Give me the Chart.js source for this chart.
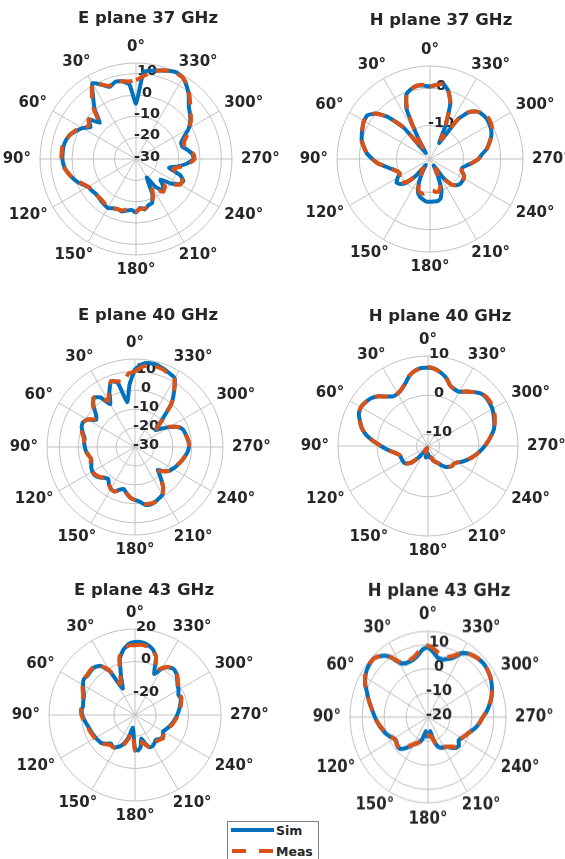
<!DOCTYPE html>
<html><head><meta charset="utf-8">
<script src="https://cdn.jsdelivr.net/npm/chart.js@4.4.0/dist/chart.umd.min.js"></script>
<style>
html,body{margin:0;padding:0;background:#fff;}
body{width:565px;height:859px;position:relative;overflow:hidden;font-family:"DejaVu Sans",sans-serif;}
canvas{position:absolute;}
#legend{position:absolute;left:227px;top:821px;width:90px;height:44px;border:1px solid #7f7f7f;background:#fff;z-index:5;font:bold 12.5px "DejaVu Sans";color:#262626;}
#legend .row{position:absolute;left:2px;height:16px;display:flex;align-items:center;}
#legend svg{display:block;}
#legend span{margin-left:2px;}
</style></head>
<body>
<canvas id="cE37" width="282" height="290" style="left:0;top:0"></canvas>
<canvas id="cH37" width="283" height="290" style="left:282px;top:0"></canvas>
<canvas id="cE40" width="282" height="285" style="left:0;top:290px"></canvas>
<canvas id="cH40" width="283" height="285" style="left:282px;top:290px"></canvas>
<canvas id="cE43" width="282" height="284" style="left:0;top:575px"></canvas>
<canvas id="cH43" width="283" height="284" style="left:282px;top:575px"></canvas>
<div id="legend">
  <div class="row" style="top:0px"><svg width="44" height="8"><line x1="1" y1="4" x2="44" y2="4" stroke="#0072BD" stroke-width="4"/></svg><span>Sim</span></div>
  <div class="row" style="top:21px"><svg width="44" height="8"><line x1="2" y1="4" x2="44" y2="4" stroke="#D95319" stroke-width="4" stroke-dasharray="14 13"/></svg><span>Meas</span></div>
</div>
<script>
// angles (degrees, counter-clockwise from top)
const angles = [0,5,10,15,20,25,30,35,40,45,50,55,60,65,70,75,80,85,90,95,100,105,110,115,120,125,130,135,140,145,150,155,160,165,170,175,180,185,190,195,200,205,210,215,220,225,230,235,240,245,250,255,260,265,270,275,280,285,290,295,300,305,310,315,320,325,330,335,340,345,350,355];
const thetaTicks = [0,30,60,90,120,150,180,210,240,270,300,330];
const thetaTickLabels = ['0°','30°','60°','90°','120°','150°','180°','210°','240°','270°','300°','330°'];

// E plane 37 GHz
const e37Sim  = [-4,5,7,7.5,6,8.5,11,5,0,-6,-1,-4,-1,1,3,4,4.5,4.5,4.5,4,3,1.5,0,-2,-4,-4.5,-5,-5,-4.5,-4,-3.5,-4.5,-5,-4.5,-5.5,-6,-5,-7,-6,-7.5,-8,-12,-20,-14,-11,-12,-15,-10,-6.5,-5.5,-8,-14,-10,-6,-3,-3.5,-5.5,-7.5,-7.5,-5,-1.5,1,3,5,8.5,11.5,14,14.8,14,13,12,11];
const e37Meas = [7,6.5,7,7.5,6.5,8.5,11,6,1,-5,-1,-3,-0.5,1.5,3,4,5,5,5,4.5,3,1.5,-0.5,-2.5,-4,-5,-5,-5,-5,-4.5,-4,-4.5,-5,-5,-6,-6,-5.5,-6.5,-6.5,-7,-8,-11,-15,-12,-10,-11,-12,-9,-6,-6,-8.5,-12,-9,-5,-2.5,-3,-5,-6.5,-6,-3.5,-1,1.5,3.5,6,9,12,14,14.5,14,13,11,9];
// H plane 37 GHz
const h37Sim  = [0.5,0.8,1,0.5,-0.5,-4,-13,-17,-8,-3,0,1.5,1.5,1,0.5,0,-1,-2,-3.5,-5,-7,-8.5,-9.5,-10,-9,-8,-8.5,-10,-13,-17,-15,-12,-9.5,-8.5,-8,-7.5,-7.5,-7.5,-7.5,-8,-10,-14,-17,-13,-10,-9,-8.5,-8.5,-8.5,-9,-10,-10,-9,-7.5,-6,-5,-3.5,-2.5,-1.5,-0.8,-0.5,-0.3,-0.5,-1,-2.5,-6,-14,-9,-3,0,1.5,1];
const h37Meas = [0.5,1,1,0.5,-0.5,-4.5,-12,-16,-8,-3,0,1.5,1.5,1,0.5,0,-1,-2,-3.5,-5,-7,-8.5,-9.5,-10,-9.5,-8.5,-9,-10.5,-13,-16,-14,-12,-10,-9.5,-9.5,-10,-10.5,-10.5,-10,-10,-11,-14,-16,-13,-10,-9,-8.5,-8.5,-8.5,-9,-10,-10,-9,-7.5,-6,-5,-3.5,-2.5,-1.5,-0.5,0,0.2,-0.3,-1,-2.5,-6,-13,-9,-3,0,1.5,1];
// E plane 40 GHz
const e40Sim  = [11,3,-6,5,7,2,-4,2,4,1,-3,-5,-1,0.5,0,-1.5,-3,-3,-3.5,-4,-5,-6,-5.5,-4.5,-4,-4,-5,-7,-8,-6,-4.5,-4,-6,-7,-5,-3,-2,-1,1,1.5,1,0,-1,-4,-9,-13,-10,-8,-7,-6,-5,-4,-3,-2,-1.5,-1.5,-2,-2.5,-3,-5,-9,-13,-16,-10,0,6,12,13,14,15,15,14];
const e40Meas = [10,9,5,6,7,3,-2,2,4,1.5,-2,-4,-1,0.5,0,-1,-2.5,-3,-3.5,-4,-5,-6,-5,-4.5,-4,-4.5,-5.5,-7,-7.5,-6,-4.5,-4,-5.5,-6.5,-5,-3,-2,-1,0.5,1,1,0,-1,-4,-9,-12,-10,-8,-7,-6,-5,-4,-3,-2,-1.5,-1.5,-2,-2.5,-3,-5,-8.5,-12,-15,-9,0,6,11.5,12.5,13.5,14,14,12.5];
// H plane 40 GHz
const h40Sim  = [7,7,6.5,5.5,4,3,2.5,2.5,3.5,5,6,6.5,6.8,6.5,5.5,4.5,3,1,-1,-2.5,-4,-5,-5.5,-5.5,-5.5,-5.5,-6,-7,-9,-11,-12,-12.5,-12,-11,-10,-10.5,-11,-10.5,-10,-10,-9,-8.5,-8,-7,-6,-5.5,-5,-5,-4.5,-3.5,-2.5,-1.5,-0.5,0.5,1.5,2.5,3.5,4.5,5,5.5,6,6.2,6.3,6,5,4,3,3,3.5,5,6,6.8];
const h40Meas = [7.2,7,6.5,5.5,4,3,2.5,2.5,3.5,5,6,6.5,6.8,6.5,5.5,4.5,3,1,-1,-2.5,-4,-5,-5.5,-5.5,-5.5,-5.5,-6,-7,-9,-11,-12,-12.5,-12,-11,-10,-10,-10.5,-10,-10,-10,-9,-8.5,-8,-7,-6,-5.5,-5,-5,-4.5,-3.5,-2.5,-1.5,-0.5,0.5,1.5,2.5,3.5,4.5,5.2,5.8,6.3,6.5,6.5,6.2,5,4,3,3,3.5,5,6,6.8];
// E plane 43 GHz
const e43Sim  = [12,11,8,3,-8,-15,-2,4,5.5,5.5,5,5.5,4,2,0.5,0,-0.5,0,-0.5,-1.5,-2.5,-3.5,-4,-4.5,-5,-5.5,-6,-8,-10,-9,-10,-12,-15,-20,-25,-22,-12,-11,-13,-18,-14,-11,-11,-12,-13,-12,-11,-12,-13,-12,-11,-10,-9,-8,-7,-6,-5,-4,-3,-3.5,-2,-1,1,3,4,3,0,-5,5,9,11,12];
const e43Meas = [10,10,8,4,-6,-12,-1,4,6,6,5.5,5.5,4.5,2.5,1,0.5,0,0.5,0,-1,-2,-3,-3.5,-4,-4.5,-5,-6,-7.5,-9,-9,-9.5,-11,-14,-18,-22,-20,-11,-11,-12,-16,-13,-11,-10.5,-11.5,-12,-11.5,-10.5,-11.5,-12,-11.5,-10.5,-9.5,-8.5,-7.5,-6.5,-5.5,-4.5,-3.5,-2.5,-2.5,-1.5,-0.5,1.5,3.5,4,3,0.5,-3,5,9,10,10.5];
// H plane 43 GHz
const h43Sim  = [8.8,8,6,4.8,4.4,4.5,6,10.5,13,14.5,14.5,14,13,11.5,9.5,8,6.5,5.2,4.2,3.2,2.2,1.2,0.3,-1,-2.2,-2.5,-1.6,-1.6,-3,-5,-7,-8,-9,-11,-14,-12,-13,-12,-14,-10,-7,-6,-5.5,-5,-3.5,-2,-1.6,-3,-2.5,-1.5,-0.5,1,2.5,3.8,5,6.8,8.3,9.8,11,12,12.8,13.3,13.6,13.4,12.8,12,10.5,7,5.5,4.7,5,7];
const h43Meas = [9.5,9,7,5.5,5,5,6.5,10.5,13,14.5,14.5,14,13,11.5,9.5,8,6.5,5.2,4.2,3.2,2,1,0,-1.2,-2.2,-2.2,-1.8,-2,-3.5,-5.5,-7,-8,-9.5,-11,-12,-12,-12.5,-12,-12,-10,-7,-6,-5.5,-5,-4,-2.5,-2,-3,-2.5,-1.5,-0.5,1,2.5,3.8,5,6.8,8.3,9.8,11,12,12.8,13.3,13.6,13.4,12.8,12,10.8,8,6.5,6,7,8.5];

// radial tick values (grid circles; first = centre, last = outer edge) and labelled ticks
const e37Grid = [-30,-20,-10,0,10,15];   const e37RLabels = [-30,-20,-10,0,10];
const h37Grid = [-19,-10,0,6];           const h37RLabels = [-10,0];
const e40Grid = [-30,-20,-10,0,10,16.5]; const e40RLabels = [-30,-20,-10,0,10];
const h40Grid = [-13,-10,0,10];          const h40RLabels = [-10,0,10];
const e43Grid = [-33,-20,0,20];          const e43RLabels = [-20,0,20];
const h43Grid = [-20,-10,0,10,15.5];     const h43RLabels = [-20,-10,0,10];

const BLUE = '#0072BD', ORANGE = '#D95319', GRID = '#c2c2c2', TXT = '#262626';
const FONT = '"DejaVu Sans", Verdana, sans-serif';

const decor = {
  id: 'decor',
  beforeDatasetsDraw(chart, args, o) {
    const s = chart.scales.r, ctx = chart.ctx;
    ctx.save();
    ctx.font = 'bold 14.5px ' + FONT;
    ctx.fillStyle = TXT; ctx.textAlign = 'center'; ctx.textBaseline = 'middle';
    o.rLabels.forEach(v => {
      const d = s.getDistanceFromCenterForValue(v);
      ctx.fillText(String(v), s.xCenter + 11, s.yCenter - d - 2);
    });
    ctx.restore();
  },
  afterDraw(chart, args, o) {
    const s = chart.scales.r, ctx = chart.ctx;
    ctx.save();
    ctx.font = 'bold 15px ' + FONT;
    ctx.fillStyle = TXT; ctx.textAlign = 'center'; ctx.textBaseline = 'middle';
    thetaTicks.forEach((a, k) => {
      const idx = chart.data.labels.indexOf(a);
      const txt = thetaTickLabels[k];
      const w = ctx.measureText(txt).width;
      const ang = s.getIndexAngle(idx) - Math.PI / 2;
      const p = s.getPointPosition(idx, s.drawingArea + 9);
      ctx.fillText(txt, p.x + Math.cos(ang) * w / 2, p.y + Math.sin(ang) * 6.5 / o.sy);
    });
    ctx.font = 'bold 16.5px ' + FONT;
    ctx.textBaseline = 'alphabetic';
    ctx.fillText(o.title, o.tx, o.ty);
    ctx.restore();
  }
};

function makePanel(p) {
  const [bx, by, bw, bh] = p.box;
  const sy = p.sy || 1;                       // vertical stretch of the pasted panel
  const lcx = p.c[0] - bx, lcy = p.c[1] - by;
  const pad = {left: lcx - p.R, right: bw - (lcx + p.R), top: lcy - p.R, bottom: bh - (lcy + p.R)};
  const cv = document.getElementById(p.id);
  if (sy !== 1) { cv.style.transformOrigin = lcx + 'px ' + lcy + 'px'; cv.style.transform = 'scaleY(' + sy + ')'; }
  const ty = p.c[1] + (p.t[1] - p.c[1]) / sy - by;
  const n = angles.length;
  const idx = [0]; for (let k = n - 1; k >= 1; k--) idx.push(k);  // chart.js runs clockwise -> reverse for ccw angles
  new Chart(cv, {
    type: 'radar',
    data: {
      labels: idx.map(i => angles[i]),
      datasets: [
        {label: 'Sim', data: idx.map(i => p.sim[i]), borderColor: BLUE, borderWidth: 4, pointRadius: 0, fill: false, order: 2, tension: 0.15},
        {label: 'Meas', data: idx.map(i => p.meas[i]), borderColor: ORANGE, borderWidth: 4, borderDash: [13, 9], pointRadius: 0, fill: false, order: 1, tension: 0.15}
      ]
    },
    options: {
      responsive: false, animation: false, devicePixelRatio: 1,
      layout: {padding: pad},
      plugins: {legend: {display: false}, tooltip: {enabled: false}, title: {display: false},
        decor: {rLabels: p.rLabels, title: p.title, tx: p.t[0] - bx, ty: ty, sy: sy}},
      scales: {
        r: {
          min: p.grid[0], max: p.grid[p.grid.length - 1], startAngle: 0,
          ticks: {display: false},
          afterBuildTicks: sc => { sc.ticks = p.grid.map(v => ({value: v})); },
          grid: {circular: true, color: GRID, lineWidth: 1},
          angleLines: {color: GRID, lineWidth: c => (((360 - c.index * 5) % 360) % 30 === 0 ? 1 : 0)},
          pointLabels: {display: false}
        }
      }
    },
    plugins: [decor]
  });
}

[
  {id: 'cE37', title: 'E plane 37 GHz', box: [0, 0, 282, 290],   c: [136, 159], R: 96, grid: e37Grid, rLabels: e37RLabels, sim: e37Sim, meas: e37Meas, t: [148, 23]},
  {id: 'cH37', title: 'H plane 37 GHz', box: [282, 0, 283, 290], c: [430, 159], R: 93, grid: h37Grid, rLabels: h37RLabels, sim: h37Sim, meas: h37Meas, t: [441, 25]},
  {id: 'cE40', title: 'E plane 40 GHz', box: [0, 290, 282, 285], c: [135, 447], R: 88, grid: e40Grid, rLabels: e40RLabels, sim: e40Sim, meas: e40Meas, t: [148, 320]},
  {id: 'cH40', title: 'H plane 40 GHz', box: [282, 290, 283, 285], c: [428, 446], R: 90, grid: h40Grid, rLabels: h40RLabels, sim: h40Sim, meas: h40Meas, t: [440, 321]},
  {id: 'cE43', title: 'E plane 43 GHz', box: [0, 575, 282, 284], c: [135, 715], R: 86, grid: e43Grid, rLabels: e43RLabels, sim: e43Sim, meas: e43Meas, t: [144, 595]},
  {id: 'cH43', title: 'H plane 43 GHz', box: [282, 575, 283, 284], c: [428, 717], R: 78, sy: 1.1, grid: h43Grid, rLabels: h43RLabels, sim: h43Sim, meas: h43Meas, t: [439, 596]}
].forEach(makePanel);
</script>
</body></html>
